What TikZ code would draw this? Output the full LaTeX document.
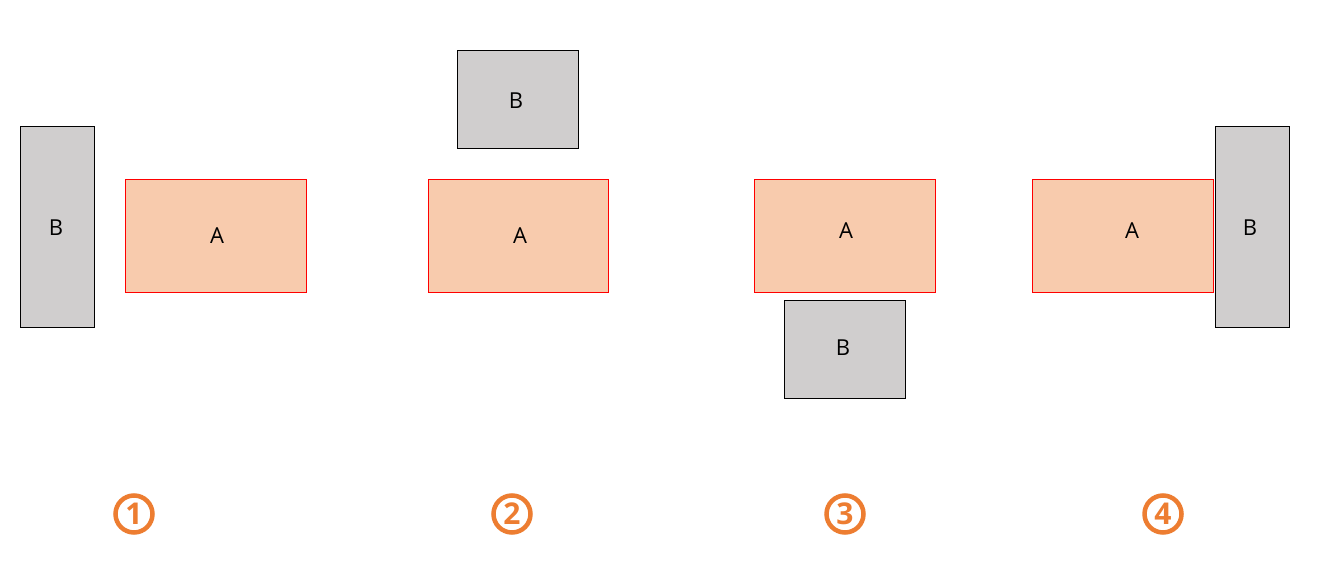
\documentclass[tikz,border=0pt]{standalone}
\usepackage{fontspec}
\setmainfont{Open Sans}
\begin{document}
\begin{tikzpicture}[x=1pt,y=-1pt]
\definecolor{afill}{HTML}{F8CBAD}
\definecolor{bfill}{HTML}{D0CECE}
\definecolor{orng}{HTML}{ED7D31}
\tikzset{
 abox/.style={draw=red,fill=afill,line width=1pt},
 bbox/.style={draw=black,fill=bfill,line width=1pt},
 lbl/.style={font=\fontsize{22}{24}\selectfont,inner sep=0pt},
 num/.style={circle,draw=orng,line width=4.5pt,minimum size=37pt,inner sep=0pt,text=orng,font=\fontsize{30}{30}\selectfont\bfseries}
}
\useasboundingbox[fill=white] (0,0) rectangle (1338,588);
% 1
\draw[bbox] (20,127) rectangle (94,327);
\draw[abox] (125,180) rectangle (306,292);
\node[lbl] (b1) at (56,228) {B};
\node[lbl] (a1) at (217,236) {A};
\node[num] (n1) at (134,514) {1};
% 2
\draw[bbox] (457,51) rectangle (578,149);
\draw[abox] (428,180) rectangle (608,292);
\node[lbl] (b2) at (516,101) {B};
\node[lbl] (a2) at (520,236) {A};
\node[num] (n2) at (512,514) {2};
% 3
\draw[abox] (754,180) rectangle (935,292);
\draw[bbox] (784,300) rectangle (905,398);
\node[lbl] (a3) at (846,231) {A};
\node[lbl] (b3) at (843,348) {B};
\node[num] (n3) at (845,514) {3};
% 4
\draw[abox] (1032,180) rectangle (1213,292);
\draw[bbox] (1215,127) rectangle (1289,327);
\node[lbl] (a4) at (1132,231) {A};
\node[lbl] (b4) at (1250,228) {B};
\node[num] (n4) at (1163,514) {4};
\end{tikzpicture}
\end{document}
